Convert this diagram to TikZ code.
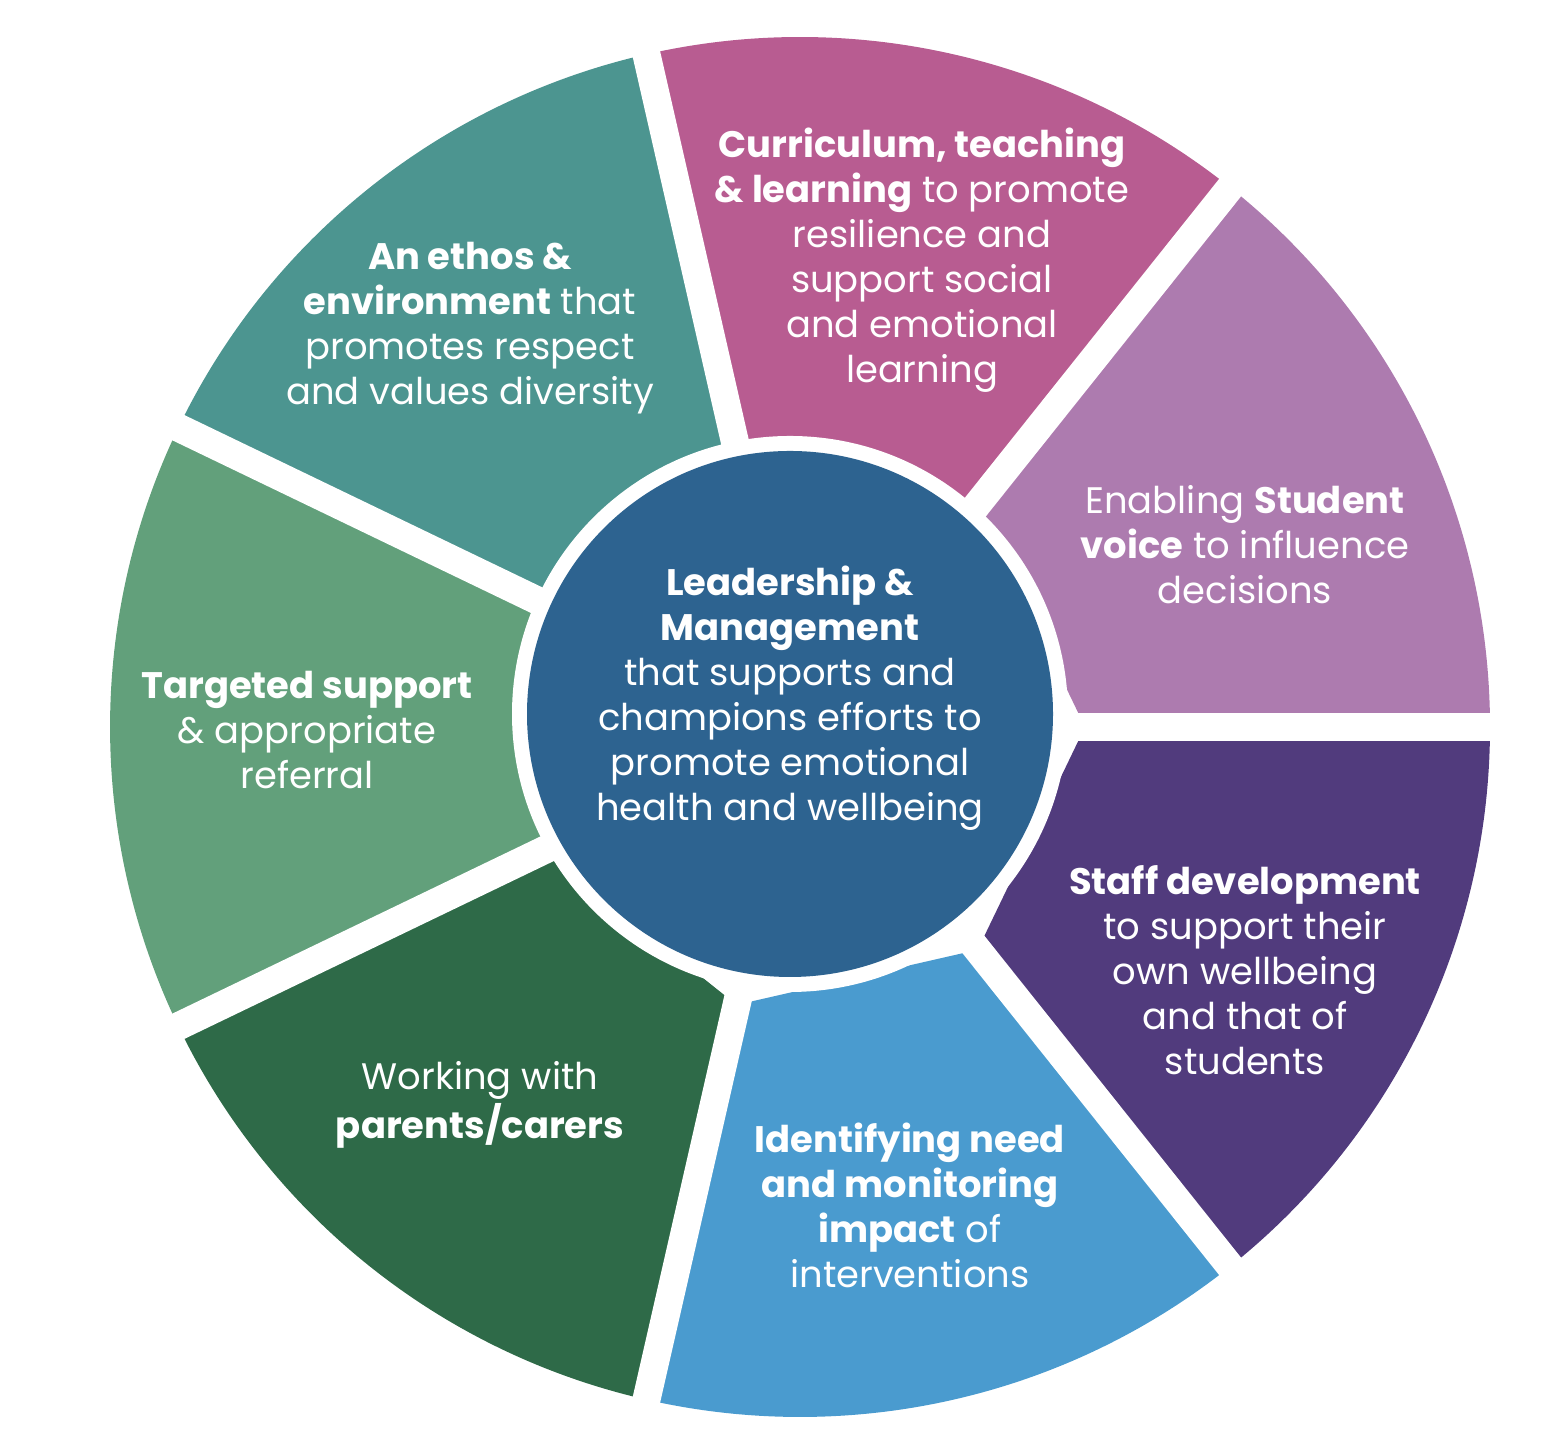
\documentclass[tikz,border=0pt]{standalone}
\usetikzlibrary{calc}
\usepackage{fontspec}
\setmainfont{Poppins}
\definecolor{cteal}{HTML}{4C9590}
\definecolor{cpink}{HTML}{B85C91}
\definecolor{cpinkb}{HTML}{C4628F}
\definecolor{clav}{HTML}{AD7BAF}
\definecolor{cstaff}{HTML}{513B7D}
\definecolor{cblue}{HTML}{4A9BCF}
\definecolor{cdkgreen}{HTML}{2E6A48}
\definecolor{cgreen}{HTML}{62A07B}
\definecolor{ccenter}{HTML}{2D6390}
\tikzset{
  lbl/.style={text=white,align=center,font=\fontsize{10.5}{12.8}\selectfont,inner sep=0pt},
}
\newcommand{\seg}[3]{\fill[#3] (#1:2.85) -- (#1:6.9) arc[start angle=#1,end angle=#2,radius=6.9] -- (#2:2.85) -- cycle;}
\begin{document}
\begin{tikzpicture}
\useasboundingbox (0,0) rectangle (15.56,14.44);
\begin{scope}[shift={(8.0,7.17)}]
\seg{0}{51.43}{clav}
\seg{51.43}{102.86}{cpink}
\seg{102.86}{154.29}{cteal}
\seg{154.29}{205.71}{cgreen}
\seg{205.71}{257.14}{cdkgreen}
\seg{257.14}{308.57}{cblue}
\seg{308.57}{360}{cstaff}
\draw[cpinkb,line width=0.12cm] ($(51.43:3.0)+(141.43:0.08)$) -- ($(51.43:6.8)+(141.43:0.08)$);
\foreach \a in {0,51.43,102.86,154.29,205.71,257.14,308.57}
  \draw[white,line width=0.28cm] (0,0) -- (\a:7.3);
\end{scope}
\node[circle,fill=white,minimum size=5.56cm,inner sep=0pt] (cw) at (7.90,7.30) {};
\node[circle,fill=ccenter,minimum size=5.26cm,inner sep=0pt] (c) at (7.90,7.30) {};
\node[lbl] (tc) at (7.90,7.46) {\textbf{Leadership \&}\\\textbf{Management}\\that supports and\\champions efforts to\\promote emotional\\health and wellbeing};
\node[lbl] (t1) at (4.70,11.16) {\textbf{An ethos \&}\\\textbf{environment} that\\promotes respect\\and values diversity};
\node[lbl] (t2) at (9.22,11.84) {\textbf{Curriculum, teaching}\\\textbf{\& learning} to promote\\resilience and\\support social\\and emotional\\learning};
\node[lbl] (t3) at (12.45,8.99) {Enabling \textbf{Student}\\\textbf{voice} to influence\\decisions};
\node[lbl] (t4) at (12.45,4.74) {\textbf{Staff development}\\to support their\\own wellbeing\\and that of\\students};
\node[lbl] (t5) at (9.10,2.39) {\textbf{Identifying need}\\\textbf{and monitoring}\\\textbf{impact} of\\interventions};
\node[lbl] (t6) at (4.80,3.39) {Working with\\\textbf{parents/carers}};
\node[lbl] (t7) at (3.07,7.14) {\textbf{Targeted support}\\\& appropriate\\referral};
\end{tikzpicture}
\end{document}
